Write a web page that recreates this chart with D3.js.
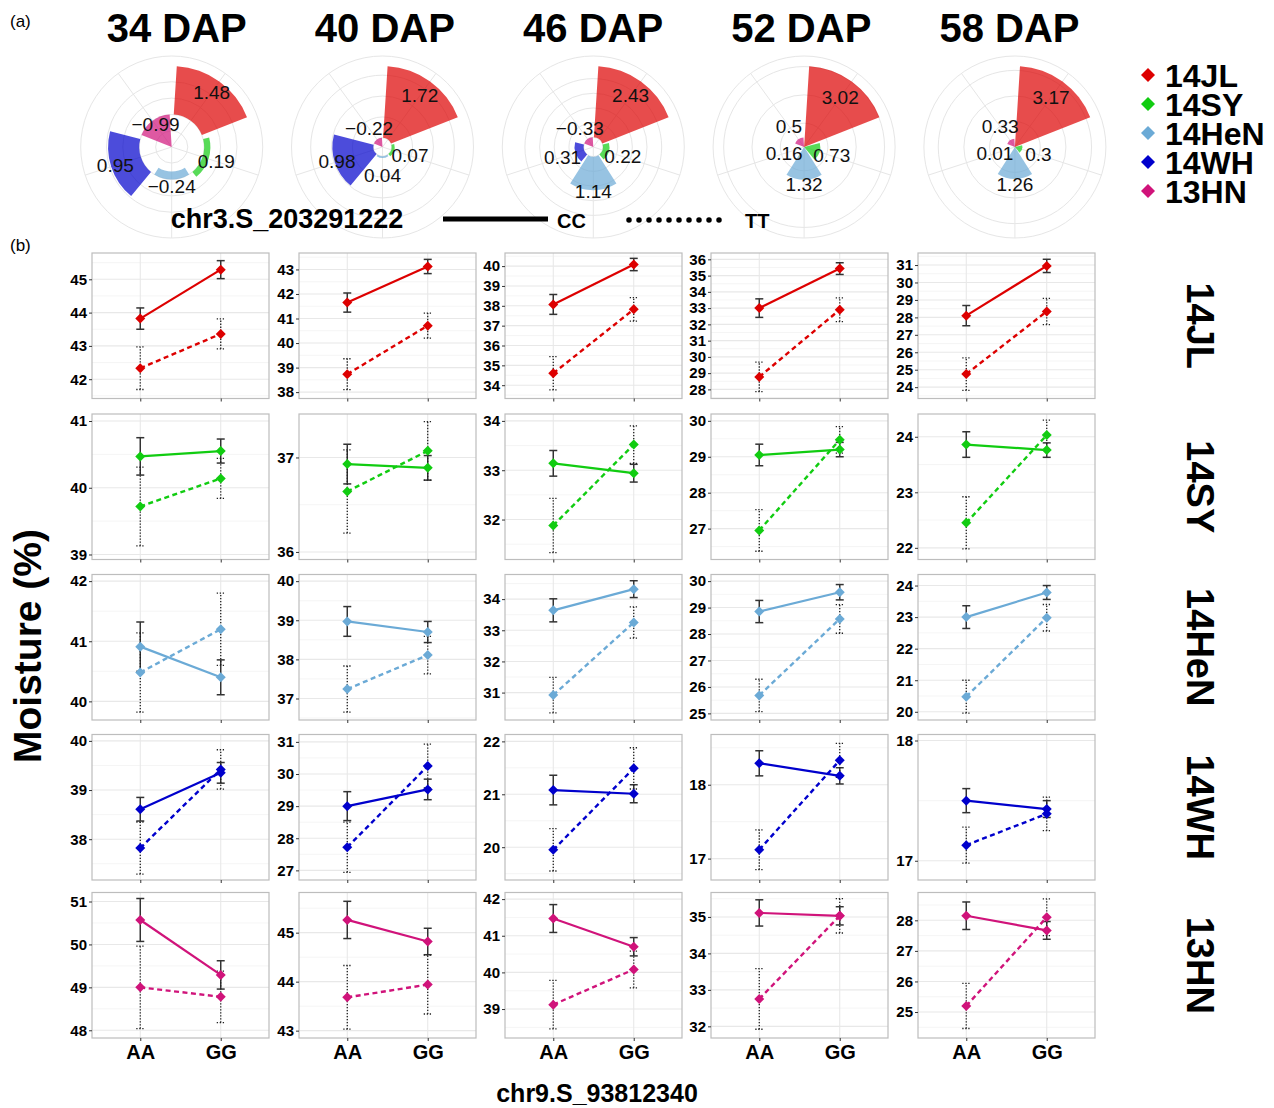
<!DOCTYPE html>
<html><head><meta charset="utf-8">
<script src="https://cdn.jsdelivr.net/npm/d3@7"></script>
<style>body{margin:0;background:#fff;} svg{display:block;font-family:"Liberation Sans",Arial,sans-serif;}</style>
</head><body><svg id="c" width="1274" height="1108"></svg>
<script>
// ---------- data ----------
const dapLabels = ["34 DAP", "40 DAP", "46 DAP", "52 DAP", "58 DAP"];
const envs = ["14JL", "14SY", "14HeN", "14WH", "13HN"];
const genos = ["AA", "GG"];
const envColors = ["#DD0000", "#11CC11", "#6BAAD6", "#0000CC", "#D0137A"];

// (a) polar effects, order = envs
const effect34 = [1.48, 0.19, -0.24, 0.95, -0.99];
const effect40 = [1.72, 0.07, 0.04, 0.98, -0.22];
const effect46 = [2.43, 0.22, 1.14, 0.31, -0.33];
const effect52 = [3.02, 0.73, 1.32, 0.16, 0.5];
const effect58 = [3.17, 0.3, 1.26, 0.01, 0.33];
const effects = [effect34, effect40, effect46, effect52, effect58];

// (b) moisture means [AA, GG] per DAP; CC = solid, TT = dotted
const jlCC   = [[43.82,45.29],[41.65,43.12],[38.07,40.08],[33.0,35.43],[28.1,30.95]];
const jlCCse = [[0.32,0.27],[0.39,0.29],[0.5,0.31],[0.57,0.36],[0.58,0.38]];
const jlTT   = [[42.33,43.36],[38.73,40.71],[34.6,37.82],[28.77,32.9],[24.75,28.34]];
const jlTTse = [[0.64,0.45],[0.63,0.51],[0.84,0.59],[0.91,0.73],[0.93,0.75]];

const syCC   = [[40.47,40.55],[36.93,36.89],[33.14,32.94],[29.05,29.2],[23.86,23.76]];
const syCCse = [[0.28,0.18],[0.21,0.13],[0.26,0.18],[0.3,0.2],[0.23,0.13]];
const syTT   = [[39.72,40.14],[36.64,37.07],[31.88,33.52],[26.95,29.47],[22.45,24.03]];
const syTTse = [[0.59,0.3],[0.44,0.31],[0.55,0.38],[0.58,0.37],[0.47,0.27]];

const henCC   = [[40.91,40.4],[38.97,38.7],[33.64,34.32],[28.85,29.58],[23.0,23.78]];
const henCCse = [[0.41,0.29],[0.38,0.27],[0.37,0.27],[0.42,0.29],[0.36,0.22]];
const henTT   = [[40.48,41.2],[37.24,38.11],[30.92,33.25],[25.68,28.57],[20.48,22.98]];
const henTTse = [[0.66,0.6],[0.59,0.48],[0.57,0.5],[0.61,0.54],[0.52,0.42]];

const whCC   = [[38.61,39.35],[29.0,29.52],[21.08,21.01],[18.29,18.12],[17.5,17.43]];
const whCCse = [[0.24,0.21],[0.45,0.32],[0.28,0.17],[0.17,0.11],[0.1,0.07]];
const whTT   = [[37.82,39.42],[27.72,30.25],[19.95,21.49],[17.12,18.33],[17.13,17.39]];
const whTTse = [[0.53,0.4],[0.78,0.68],[0.4,0.39],[0.27,0.23],[0.15,0.14]];

const hnCC   = [[50.57,49.29],[45.26,44.82],[41.47,40.7],[35.11,35.03],[28.15,27.67]];
const hnCCse = [[0.5,0.33],[0.38,0.27],[0.38,0.25],[0.36,0.25],[0.45,0.29]];
const hnTT   = [[49.0,48.78],[43.68,43.94],[39.12,40.08],[32.75,35.03],[25.2,28.1]];
const hnTTse = [[0.96,0.6],[0.65,0.6],[0.66,0.5],[0.83,0.47],[0.74,0.6]];

// axis ranges and tick labels
const jlLim  = [[41.42,45.79],[37.74,43.67],[33.33,40.66],[27.44,36.39],[23.35,31.69]];
const syLim  = [[38.925,41.105],[35.92,37.46],[31.19,34.14],[26.14,30.19],[21.79,24.41]];
const henLim = [[39.69,42.11],[36.45,40.17],[30.12,34.79],[24.75,30.25],[19.74,24.35]];
const whLim  = [[37.17,40.13],[26.7,31.23],[19.38,22.13],[16.71,18.68],[16.84,18.05]];
const hnLim  = [[47.82,51.21],[42.85,45.82],[38.21,42.18],[31.68,35.67],[24.15,28.91]];

const jlTicks  = [[42,43,44,45],[38,39,40,41,42,43],[34,35,36,37,38,39,40],[28,29,30,31,32,33,34,35,36],[24,25,26,27,28,29,30,31]];
const syTicks  = [[39,40,41],[36,37],[32,33,34],[27,28,29,30],[22,23,24]];
const henTicks = [[40,41,42],[37,38,39,40],[31,32,33,34],[25,26,27,28,29,30],[20,21,22,23,24]];
const whTicks  = [[38,39,40],[27,28,29,30,31],[20,21,22],[17,18],[17,18]];
const hnTicks  = [[48,49,50,51],[43,44,45],[39,40,41,42],[32,33,34,35],[25,26,27,28]];

const rowsData = [
  {cc: jlCC, ccSe: jlCCse, tt: jlTT, ttSe: jlTTse, lim: jlLim, ticks: jlTicks},
  {cc: syCC, ccSe: syCCse, tt: syTT, ttSe: syTTse, lim: syLim, ticks: syTicks},
  {cc: henCC, ccSe: henCCse, tt: henTT, ttSe: henTTse, lim: henLim, ticks: henTicks},
  {cc: whCC, ccSe: whCCse, tt: whTT, ttSe: whTTse, lim: whLim, ticks: whTicks},
  {cc: hnCC, ccSe: hnCCse, tt: hnTT, ttSe: hnTTse, lim: hnLim, ticks: hnTicks}
];

// ---------- drawing ----------
const svg = d3.select("#c");
const FONT = '"Liberation Sans", Arial, sans-serif';
svg.append("rect").attr("width",1274).attr("height",1108).attr("fill","#fff");

svg.append("text").attr("x",10).attr("y",27).attr("font-size",17).text("(a)");
svg.append("text").attr("x",10).attr("y",251).attr("font-size",17).text("(b)");

// ----- (a) polar charts -----
const Rbar = 81, Rout = 91;
const ang = d3.scaleBand().domain(envs).range([0, 2*Math.PI]).paddingInner(0.1).paddingOuter(0.05);
dapLabels.forEach((lab, i) => {
  const vals = effects[i];
  const cx = 171.7 + i*210.8, cy = 147;
  const r = d3.scaleLinear().domain([d3.min(vals), d3.max(vals)]).range([0, Rbar]);
  const base = d3.min(vals) < 0 ? r(0) : 0;
  const g = svg.append("g").attr("transform", `translate(${cx},${cy})`);
  // grid
  r.ticks(4).filter(t => r(t) > 0.5).forEach(t => {
    g.append("circle").attr("r", r(t)).attr("fill","none").attr("stroke","#E6E6E6").attr("stroke-width",1);
  });
  g.append("circle").attr("r", Rout).attr("fill","none").attr("stroke","#E6E6E6").attr("stroke-width",1);
  envs.forEach(e => {
    const a = ang(e) + ang.bandwidth()/2;
    g.append("line").attr("x1",0).attr("y1",0)
      .attr("x2", Rout*Math.sin(a)).attr("y2", -Rout*Math.cos(a))
      .attr("stroke","#E6E6E6").attr("stroke-width",1);
  });
  // bars
  const arc = d3.arc();
  envs.forEach((e, k) => {
    const rv = r(vals[k]);
    g.append("path").attr("d", arc({
      innerRadius: Math.min(base, rv), outerRadius: Math.max(base, rv),
      startAngle: ang(e), endAngle: ang(e) + ang.bandwidth()
    })).attr("fill", envColors[k]).attr("fill-opacity", 0.7);
  });
  // labels
  envs.forEach((e, k) => {
    const a = ang(e) + ang.bandwidth()/2;
    const lr = 0.5*r(vals[k]) + 21 + 0.2*base;
    const txt = vals[k] < 0 ? "\u2212" + Math.abs(vals[k]) : String(vals[k]);
    g.append("text").attr("x", lr*Math.sin(a)).attr("y", -lr*Math.cos(a))
      .attr("text-anchor","middle").attr("dominant-baseline","central")
      .attr("font-size",19).attr("fill","#111").text(txt);
  });
  svg.append("text").attr("x", cx + 5 - i*2.6).attr("y", 42).attr("text-anchor","middle")
    .attr("font-size",40).attr("font-weight","bold").text(lab);
});

// legend
envs.forEach((e, k) => {
  const y = 75 + k*29;
  svg.append("path").attr("d","M0,-7L7,0L0,7L-7,0Z").attr("transform",`translate(1148,${y})`)
    .attr("fill", envColors[k]);
  svg.append("text").attr("x",1165).attr("y", y + 12).attr("font-size",32)
    .attr("font-weight","bold").text(e);
});

// SNP legend
svg.append("text").attr("x",287).attr("y",228).attr("text-anchor","middle")
  .attr("font-size",27).attr("font-weight","bold").text("chr3.S_203291222");
svg.append("line").attr("x1",443).attr("x2",548).attr("y1",219).attr("y2",219)
  .attr("stroke","#000").attr("stroke-width",5);
svg.append("text").attr("x",557).attr("y",228).attr("font-size",20).attr("font-weight","bold").text("CC");
svg.append("line").attr("x1",629).attr("x2",728).attr("y1",220).attr("y2",220)
  .attr("stroke","#000").attr("stroke-width",5.5).attr("stroke-linecap","round").attr("stroke-dasharray","0,10");
svg.append("text").attr("x",745).attr("y",228).attr("font-size",20).attr("font-weight","bold").text("TT");

// ----- (b) panels -----
const colLeft = [92, 299, 505, 711, 918];
const rowTop = [253, 414, 574.5, 734.5, 892.5];
const PW = 177, PH = 145.5;
const x = d3.scalePoint().domain(genos).range([0, PW]).padding(0.6);
const diamond = "M0,-5L5,0L0,5L-5,0Z";

rowsData.forEach((row, ri) => {
  const color = envColors[ri];
  for (let ci = 0; ci < 5; ci++) {
    const g = svg.append("g").attr("transform", `translate(${colLeft[ci]},${rowTop[ri]})`);
    const y = d3.scaleLinear().domain(row.lim[ci]).range([PH, 0]);
    const ticks = row.ticks[ci];
    g.append("rect").attr("width",PW).attr("height",PH).attr("fill","#fff");
    // minor grid
    const step = ticks.length > 1 ? ticks[1]-ticks[0] : 1;
    const minors = [];
    for (let t = ticks[0] - step/2; t <= ticks[ticks.length-1] + step/2 + 1e-9; t += step) minors.push(t);
    minors.filter(t => t > row.lim[ci][0] && t < row.lim[ci][1]).forEach(t => {
      g.append("line").attr("x1",0).attr("x2",PW).attr("y1",y(t)).attr("y2",y(t))
        .attr("stroke","#F3F3F3").attr("stroke-width",0.8);
    });
    ticks.filter(t => t >= row.lim[ci][0] && t <= row.lim[ci][1]).forEach(t => {
      g.append("line").attr("x1",0).attr("x2",PW).attr("y1",y(t)).attr("y2",y(t))
        .attr("stroke","#E8E8E8").attr("stroke-width",1.1);
    });
    genos.forEach(gn => {
      g.append("line").attr("x1",x(gn)).attr("x2",x(gn)).attr("y1",0).attr("y2",PH)
        .attr("stroke","#E8E8E8").attr("stroke-width",1.1);
    });
    // series
    const series = [
      {m: row.cc[ci], se: row.ccSe[ci], dotted: false},
      {m: row.tt[ci], se: row.ttSe[ci], dotted: true}
    ];
    series.forEach(s => {
      genos.forEach((gn, k) => {
        const cxp = x(gn), lo = y(s.m[k] - s.se[k]), hi = y(s.m[k] + s.se[k]);
        const eb = g.append("g").attr("stroke", s.dotted ? "#222" : "#333")
          .attr("stroke-width", s.dotted ? 1.3 : 1.5)
          .attr("stroke-dasharray", s.dotted ? "1.3,1.7" : null).attr("fill","none");
        eb.append("line").attr("x1",cxp).attr("x2",cxp).attr("y1",lo).attr("y2",hi);
        eb.append("line").attr("x1",cxp-4).attr("x2",cxp+4).attr("y1",lo).attr("y2",lo);
        eb.append("line").attr("x1",cxp-4).attr("x2",cxp+4).attr("y1",hi).attr("y2",hi);
      });
    });
    series.forEach(s => {
      const pts = genos.map((gn, k) => [x(gn), y(s.m[k])]);
      g.append("path").attr("d", d3.line()(pts)).attr("fill","none").attr("stroke", color)
        .attr("stroke-width", s.dotted ? 2.4 : 2.2)
        .attr("stroke-dasharray", s.dotted ? "5,3.5" : null);
    });
    series.forEach(s => {
      genos.forEach((gn, k) => {
        g.append("path").attr("d", diamond).attr("transform", `translate(${x(gn)},${y(s.m[k])})`)
          .attr("fill", color);
      });
    });
    g.append("rect").attr("width",PW).attr("height",PH).attr("fill","none")
      .attr("stroke","#BDBDBD").attr("stroke-width",1.2);
    // axes
    const ya = g.append("g").call(d3.axisLeft(y).tickValues(ticks).tickSize(3).tickPadding(2).tickFormat(d3.format("d")));
    ya.select(".domain").remove();
    ya.selectAll(".tick line").attr("stroke","#333");
    ya.selectAll(".tick text").attr("font-size",15).attr("font-weight","bold").attr("fill","#000").attr("font-family",FONT);
    const xa = g.append("g").attr("transform",`translate(0,${PH})`)
      .call(d3.axisBottom(x).tickSize(3).tickPadding(4).tickFormat(ri === 4 ? (d => d) : (() => "")));
    xa.select(".domain").remove();
    xa.selectAll(".tick line").attr("stroke","#333");
    xa.selectAll(".tick text").attr("font-size",20).attr("font-weight","bold").attr("fill","#000").attr("font-family",FONT);
  }
  // strip label
  const cyRow = rowTop[ri] + PH/2;
  svg.append("text").attr("transform", `translate(1200,${cyRow}) rotate(90)`)
    .attr("text-anchor","middle").attr("dominant-baseline","central")
    .attr("font-size",38).attr("font-weight","bold").text(envs[ri]);
});

svg.append("text").attr("transform","translate(27,646) rotate(-90)").attr("text-anchor","middle")
  .attr("dominant-baseline","central").attr("font-size",39).attr("font-weight","bold").text("Moisture (%)");
svg.append("text").attr("x",597).attr("y",1102).attr("text-anchor","middle")
  .attr("font-size",25).attr("font-weight","bold").text("chr9.S_93812340");
</script>
</body></html>
